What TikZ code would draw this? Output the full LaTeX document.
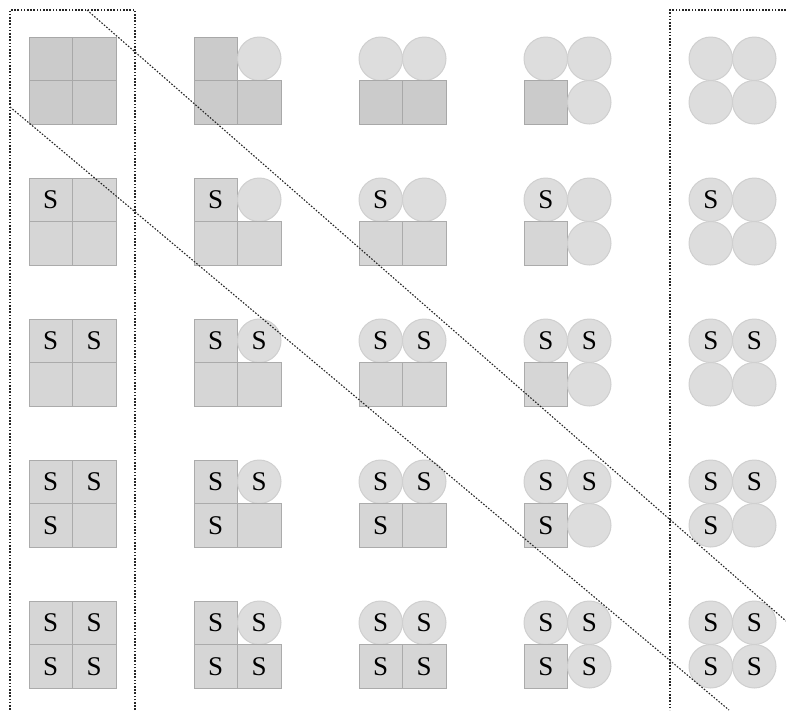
\documentclass[tikz,border=0pt]{standalone}
\usepackage{fontspec}
\setmainfont{Liberation Serif}
\definecolor{sqfilltop}{HTML}{CBCBCB}
\definecolor{sqlinetop}{HTML}{A8A8A8}
\definecolor{sqfill}{HTML}{D6D6D6}
\definecolor{sqline}{HTML}{ABABAB}
\definecolor{cfill}{HTML}{DDDDDD}
\definecolor{cline}{HTML}{CFCFCF}
\begin{document}
\begin{tikzpicture}[x=1pt,y=-1pt,
  sq/.style={draw=sqline, fill=sqfill, line width=1pt, minimum size=43.5pt, inner sep=0pt, font=\fontsize{27}{32}\selectfont},
  sqtop/.style={sq, fill=sqfilltop, draw=sqlinetop},
  circ/.style={circle, draw=cline, fill=cfill, line width=1pt, minimum size=43.5pt, inner sep=0pt, font=\fontsize{27}{32}\selectfont},
  guide/.style={draw=black!85, line width=1.1pt, dash pattern=on 1.6pt off 1.6pt}]
\useasboundingbox (0,0) rectangle (786,710);
\foreach \i in {0,...,4}{
  \foreach \j in {0,...,4}{
    \foreach \k in {0,...,3}{
      \pgfmathsetmacro\cx{29+165*\j+43.5*(mod(\k,2)+0.5)}
      \pgfmathsetmacro\cy{37+141*\i+43.5*(int(\k/2)+0.5)}
      \pgfmathtruncatemacro\isc{(\j==4) || (\j==3 && \k!=2) || (\j==2 && \k<2) || (\j==1 && \k==1)}
      \pgfmathtruncatemacro\iss{\k<\i}
      \ifnum\isc=1
        \node[circ] (n\i\j\k) at (\cx,\cy) {\ifnum\iss=1 S\fi};
      \else
        \ifnum\i=0
          \node[sqtop] (n\i\j\k) at (\cx,\cy) {\ifnum\iss=1 S\fi};
        \else
          \node[sq] (n\i\j\k) at (\cx,\cy) {\ifnum\iss=1 S\fi};
        \fi
      \fi
    }
  }
}
\draw[guide] (135,710) -- (135,10) -- (10,10) -- (10,710);
\draw[guide] (786,10) -- (670,10) -- (670,710);
\draw[guide] (87,10) -- (786,621);
\draw[guide] (10,107) -- (729,710);
\end{tikzpicture}
\end{document}
